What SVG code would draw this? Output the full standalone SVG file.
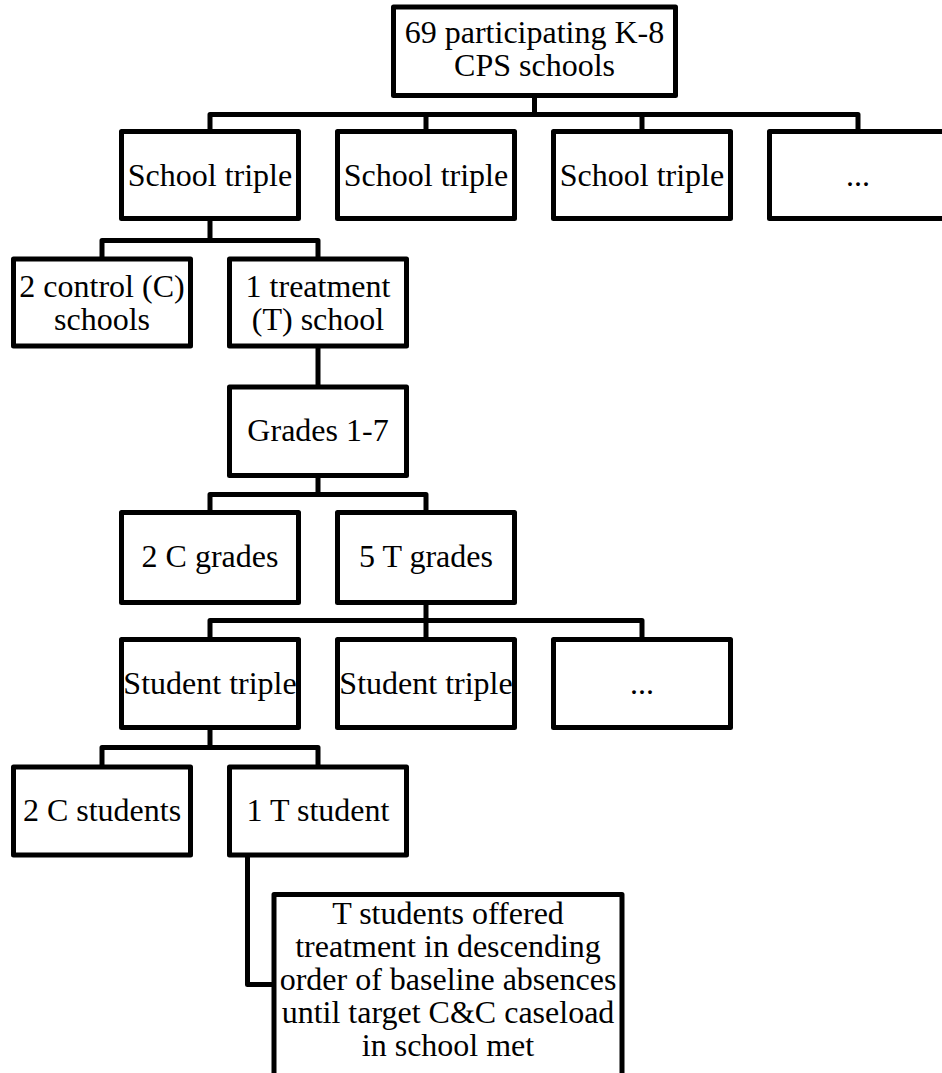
<svg xmlns="http://www.w3.org/2000/svg" width="942" height="1073" viewBox="0 0 942 1073">
<style>
.box{fill:#fff;stroke:#000;stroke-width:5;stroke-linejoin:round}
.con{fill:none;stroke:#000;stroke-width:5;stroke-linejoin:round}
text{font-family:"Liberation Serif","Times New Roman",serif;font-size:32px;fill:#000;text-anchor:middle}
</style>
<rect width="942" height="1073" fill="#fff"/>
<g id="connectors">
<path class="con" d="M534.5 95.5V114.5M210 131.5V114.5H858V131.5M426 114.5V131.5M642 114.5V131.5"/>
<path class="con" d="M210 218.5V240.5M102 259V240.5H318V259"/>
<path class="con" d="M318 346V387"/>
<path class="con" d="M318 475.5V494.5M210 512.5V494.5H426V512.5"/>
<path class="con" d="M426 602.5V620.5M210 639.5V620.5H642V639.5M426 620.5V639.5"/>
<path class="con" d="M210 727.5V747.5M102 767V747.5H318V767"/>
<path class="con" d="M247.5 855V984.5H274"/>
</g>
<g id="root"><rect class="box" x="393.5" y="7" width="282" height="88.5"/><text x="534.5" y="43">69 participating K-8</text><text x="534.5" y="76">CPS schools</text></g>
<g id="st1"><rect class="box" x="121.5" y="131.5" width="177" height="87"/><text x="210" y="186">School triple</text></g>
<g id="st2"><rect class="box" x="337.5" y="131.5" width="177" height="87"/><text x="426" y="186">School triple</text></g>
<g id="st3"><rect class="box" x="553.5" y="131.5" width="177" height="87"/><text x="642" y="186">School triple</text></g>
<g id="st4"><rect class="box" x="769.5" y="131.5" width="177" height="87"/><text x="858" y="186">...</text></g>
<g id="cschools"><rect class="box" x="13.5" y="259" width="177" height="87"/><text x="102" y="296.5">2 control (C)</text><text x="102" y="329.5">schools</text></g>
<g id="tschool"><rect class="box" x="229.5" y="259" width="177" height="87"/><text x="318" y="296.5">1 treatment</text><text x="318" y="329.5">(T) school</text></g>
<g id="grades"><rect class="box" x="229.5" y="387" width="177" height="88.5"/><text x="318" y="441">Grades 1-7</text></g>
<g id="cgrades"><rect class="box" x="121.5" y="512.5" width="177" height="90"/><text x="210" y="567">2 C grades</text></g>
<g id="tgrades"><rect class="box" x="337.5" y="512.5" width="177" height="90"/><text x="426" y="567">5 T grades</text></g>
<g id="sp1"><rect class="box" x="121.5" y="639.5" width="177" height="88"/><text x="210" y="694">Student triple</text></g>
<g id="sp2"><rect class="box" x="337.5" y="639.5" width="177" height="88"/><text x="426" y="694">Student triple</text></g>
<g id="sp3"><rect class="box" x="553.5" y="639.5" width="177" height="88"/><text x="642" y="694">...</text></g>
<g id="cstudents"><rect class="box" x="13.5" y="767" width="177" height="88"/><text x="102" y="821">2 C students</text></g>
<g id="tstudent"><rect class="box" x="229.5" y="767" width="177" height="88"/><text x="318" y="821">1 T student</text></g>
<g id="note"><rect class="box" x="274" y="894.5" width="348" height="200"/><text x="448" y="924">T students offered</text><text x="448" y="957">treatment in descending</text><text x="448" y="990">order of baseline absences</text><text x="448" y="1023">until target C&amp;C caseload</text><text x="448" y="1056">in school met</text></g>
</svg>
